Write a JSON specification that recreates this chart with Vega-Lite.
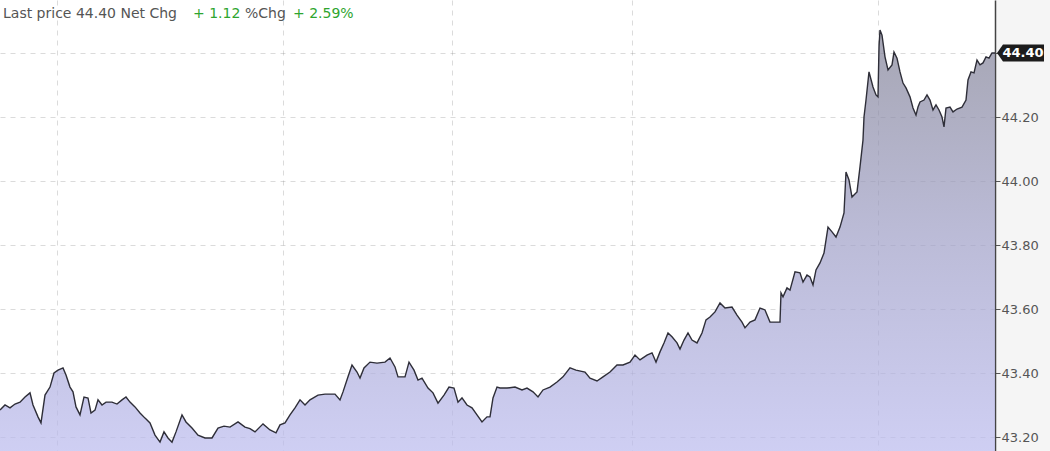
{
  "$schema": "https://vega.github.io/schema/vega-lite/v6.json",
  "width": 995,
  "height": 451,
  "autosize": {"type": "none"},
  "padding": {"left": 0, "top": 0, "right": 55, "bottom": 0},
  "background": "#f5f5f5",
  "view": {"fill": "#ffffff", "stroke": null},
  "config": {
    "font": "DejaVu Sans"
  },
  "data": {
    "values": [
      {"t": 0, "v": 43.284}, {"t": 5, "v": 43.300}, {"t": 10, "v": 43.291}, {"t": 15, "v": 43.303},
      {"t": 20, "v": 43.309}, {"t": 25, "v": 43.325}, {"t": 30, "v": 43.338}, {"t": 33, "v": 43.300},
      {"t": 38, "v": 43.263}, {"t": 41, "v": 43.244}, {"t": 45, "v": 43.331}, {"t": 50, "v": 43.356},
      {"t": 54, "v": 43.400}, {"t": 58, "v": 43.409}, {"t": 63, "v": 43.416}, {"t": 66, "v": 43.394},
      {"t": 70, "v": 43.356}, {"t": 73, "v": 43.341}, {"t": 76, "v": 43.294}, {"t": 80, "v": 43.269},
      {"t": 84, "v": 43.325}, {"t": 88, "v": 43.322}, {"t": 91, "v": 43.275}, {"t": 95, "v": 43.284},
      {"t": 98, "v": 43.316}, {"t": 102, "v": 43.300}, {"t": 106, "v": 43.309}, {"t": 112, "v": 43.309},
      {"t": 117, "v": 43.303}, {"t": 122, "v": 43.316}, {"t": 126, "v": 43.325}, {"t": 130, "v": 43.309},
      {"t": 135, "v": 43.294}, {"t": 140, "v": 43.275}, {"t": 145, "v": 43.259}, {"t": 150, "v": 43.244},
      {"t": 155, "v": 43.206}, {"t": 160, "v": 43.184}, {"t": 164, "v": 43.216}, {"t": 168, "v": 43.197},
      {"t": 172, "v": 43.184}, {"t": 176, "v": 43.216}, {"t": 182, "v": 43.269}, {"t": 186, "v": 43.247},
      {"t": 192, "v": 43.228}, {"t": 198, "v": 43.206}, {"t": 205, "v": 43.197}, {"t": 212, "v": 43.197},
      {"t": 218, "v": 43.228}, {"t": 224, "v": 43.234}, {"t": 230, "v": 43.231}, {"t": 238, "v": 43.247},
      {"t": 245, "v": 43.231}, {"t": 250, "v": 43.226}, {"t": 255, "v": 43.216}, {"t": 263, "v": 43.241},
      {"t": 270, "v": 43.222}, {"t": 276, "v": 43.213}, {"t": 280, "v": 43.238}, {"t": 285, "v": 43.244},
      {"t": 290, "v": 43.269}, {"t": 295, "v": 43.291}, {"t": 300, "v": 43.316}, {"t": 305, "v": 43.300},
      {"t": 310, "v": 43.316}, {"t": 318, "v": 43.331}, {"t": 325, "v": 43.334}, {"t": 335, "v": 43.334},
      {"t": 340, "v": 43.316}, {"t": 343, "v": 43.341}, {"t": 348, "v": 43.388}, {"t": 352, "v": 43.425},
      {"t": 357, "v": 43.403}, {"t": 360, "v": 43.384}, {"t": 364, "v": 43.416}, {"t": 370, "v": 43.434},
      {"t": 377, "v": 43.431}, {"t": 385, "v": 43.434}, {"t": 390, "v": 43.447}, {"t": 395, "v": 43.419},
      {"t": 398, "v": 43.388}, {"t": 405, "v": 43.388}, {"t": 409, "v": 43.434}, {"t": 414, "v": 43.409},
      {"t": 418, "v": 43.378}, {"t": 422, "v": 43.384}, {"t": 428, "v": 43.353}, {"t": 433, "v": 43.338},
      {"t": 438, "v": 43.306}, {"t": 444, "v": 43.331}, {"t": 449, "v": 43.356}, {"t": 454, "v": 43.353},
      {"t": 458, "v": 43.309}, {"t": 462, "v": 43.322}, {"t": 467, "v": 43.300}, {"t": 472, "v": 43.291},
      {"t": 477, "v": 43.269}, {"t": 482, "v": 43.247}, {"t": 487, "v": 43.263}, {"t": 490, "v": 43.263},
      {"t": 493, "v": 43.322}, {"t": 497, "v": 43.356}, {"t": 500, "v": 43.353}, {"t": 507, "v": 43.353},
      {"t": 515, "v": 43.356}, {"t": 522, "v": 43.347}, {"t": 527, "v": 43.353}, {"t": 533, "v": 43.341},
      {"t": 538, "v": 43.325}, {"t": 543, "v": 43.347}, {"t": 550, "v": 43.356}, {"t": 557, "v": 43.372},
      {"t": 563, "v": 43.388}, {"t": 570, "v": 43.416}, {"t": 576, "v": 43.409}, {"t": 585, "v": 43.403},
      {"t": 590, "v": 43.384}, {"t": 597, "v": 43.375}, {"t": 603, "v": 43.388}, {"t": 610, "v": 43.403},
      {"t": 617, "v": 43.425}, {"t": 623, "v": 43.425}, {"t": 630, "v": 43.434}, {"t": 635, "v": 43.456},
      {"t": 640, "v": 43.441}, {"t": 647, "v": 43.456}, {"t": 652, "v": 43.463}, {"t": 656, "v": 43.434},
      {"t": 660, "v": 43.466}, {"t": 664, "v": 43.494}, {"t": 668, "v": 43.525}, {"t": 672, "v": 43.513},
      {"t": 677, "v": 43.494}, {"t": 680, "v": 43.475}, {"t": 684, "v": 43.503}, {"t": 688, "v": 43.525},
      {"t": 692, "v": 43.503}, {"t": 697, "v": 43.494}, {"t": 702, "v": 43.525}, {"t": 706, "v": 43.566},
      {"t": 710, "v": 43.575}, {"t": 715, "v": 43.591}, {"t": 720, "v": 43.619}, {"t": 725, "v": 43.603},
      {"t": 732, "v": 43.606}, {"t": 737, "v": 43.581}, {"t": 742, "v": 43.559}, {"t": 745, "v": 43.541},
      {"t": 750, "v": 43.559}, {"t": 755, "v": 43.566}, {"t": 760, "v": 43.603}, {"t": 765, "v": 43.597},
      {"t": 770, "v": 43.559}, {"t": 777, "v": 43.559}, {"t": 780, "v": 43.559}, {"t": 781, "v": 43.650},
      {"t": 783, "v": 43.638}, {"t": 787, "v": 43.666}, {"t": 790, "v": 43.659}, {"t": 795, "v": 43.716},
      {"t": 800, "v": 43.713}, {"t": 803, "v": 43.684}, {"t": 807, "v": 43.706}, {"t": 810, "v": 43.700},
      {"t": 813, "v": 43.675}, {"t": 816, "v": 43.722}, {"t": 820, "v": 43.744}, {"t": 824, "v": 43.775},
      {"t": 828, "v": 43.856}, {"t": 832, "v": 43.841}, {"t": 836, "v": 43.825}, {"t": 840, "v": 43.856},
      {"t": 844, "v": 43.900}, {"t": 846, "v": 44.028}, {"t": 849, "v": 44.003}, {"t": 852, "v": 43.950},
      {"t": 857, "v": 43.966}, {"t": 860, "v": 44.044}, {"t": 863, "v": 44.128}, {"t": 864, "v": 44.200},
      {"t": 866, "v": 44.253}, {"t": 869, "v": 44.341}, {"t": 873, "v": 44.294}, {"t": 876, "v": 44.269},
      {"t": 878, "v": 44.263}, {"t": 879, "v": 44.419}, {"t": 880, "v": 44.472}, {"t": 882, "v": 44.456},
      {"t": 885, "v": 44.388}, {"t": 888, "v": 44.347}, {"t": 892, "v": 44.363}, {"t": 894, "v": 44.403},
      {"t": 897, "v": 44.384}, {"t": 900, "v": 44.341}, {"t": 903, "v": 44.306}, {"t": 906, "v": 44.291},
      {"t": 910, "v": 44.263}, {"t": 913, "v": 44.228}, {"t": 916, "v": 44.206}, {"t": 918, "v": 44.231},
      {"t": 920, "v": 44.247}, {"t": 924, "v": 44.253}, {"t": 927, "v": 44.269}, {"t": 930, "v": 44.253},
      {"t": 933, "v": 44.222}, {"t": 936, "v": 44.238}, {"t": 939, "v": 44.222}, {"t": 942, "v": 44.200},
      {"t": 944, "v": 44.169}, {"t": 946, "v": 44.228}, {"t": 950, "v": 44.231}, {"t": 953, "v": 44.216},
      {"t": 957, "v": 44.225}, {"t": 962, "v": 44.231}, {"t": 966, "v": 44.253}, {"t": 968, "v": 44.316},
      {"t": 971, "v": 44.341}, {"t": 974, "v": 44.338}, {"t": 977, "v": 44.378}, {"t": 980, "v": 44.363},
      {"t": 983, "v": 44.369}, {"t": 986, "v": 44.388}, {"t": 989, "v": 44.384}, {"t": 992, "v": 44.400},
      {"t": 995, "v": 44.400}
    ]
  },
  "encoding": {
    "x": {
      "field": "t",
      "type": "quantitative",
      "scale": {"domain": [0, 995], "nice": false, "zero": false},
      "axis": {
        "orient": "bottom",
        "values": [57, 283, 452, 632, 878],
        "labels": false,
        "ticks": false,
        "domain": false,
        "title": null,
        "grid": true,
        "gridColor": "#888888",
        "gridOpacity": 0.3,
        "gridDash": [5, 5],
        "gridWidth": 1
      }
    },
    "y": {
      "field": "v",
      "type": "quantitative",
      "scale": {"domain": [43.15625, 44.565625], "nice": false, "zero": false},
      "axis": {
        "orient": "right",
        "values": [43.2, 43.4, 43.6, 43.8, 44.0, 44.2, 44.4],
        "format": ".2f",
        "labelExpr": "datum.value > 44.3 ? '' : datum.label",
        "title": null,
        "grid": true,
        "gridColor": "#888888",
        "gridOpacity": 0.3,
        "gridDash": [5, 5],
        "gridWidth": 1,
        "domainColor": "#444444",
        "domainWidth": 1.5,
        "tickColor": "#555555",
        "tickSize": 5,
        "labelPadding": 1,
        "labelFont": "DejaVu Sans",
        "labelFontSize": 13,
        "labelColor": "#555555"
      }
    }
  },
  "layer": [
    {
      "mark": {
        "type": "area",
        "fill": {
          "x1": 0, "y1": 0, "x2": 0, "y2": 1,
          "gradient": "linear",
          "stops": [
            {"offset": 0, "color": "#808094"},
            {"offset": 0.5, "color": "#9f9fc7"},
            {"offset": 1, "color": "#babaee"}
          ]
        },
        "fillOpacity": 0.7,
        "stroke": null
      },
      "encoding": {"y2": {"datum": 43.15625}}
    },
    {
      "mark": {"type": "line", "color": "#2e2e38", "strokeWidth": 1.4}
    },
    {
      "transform": [{"filter": "datum.t == 995"}],
      "mark": {
        "type": "point",
        "shape": "M0.08,0L0.32,-0.34L1.96,-0.34L1.96,0.34L0.32,0.34Z",
        "size": 2500,
        "filled": true,
        "color": "#1c1c1c",
        "opacity": 1,
        "strokeWidth": 0,
        "zindex": 2
      }
    },
    {
      "transform": [{"filter": "datum.t == 995"}],
      "mark": {
        "type": "text",
        "dx": 28,
        "align": "center",
        "baseline": "middle",
        "fontSize": 13,
        "fontWeight": "bold",
        "color": "#ffffff",
        "zindex": 2
      },
      "encoding": {"text": {"field": "v", "type": "quantitative", "format": ".2f"}}
    },
    {
      "data": {"values": [{}]},
      "mark": {"type": "text", "x": 3, "y": 14, "align": "left", "baseline": "middle", "fontSize": 14, "color": "#555555", "text": "Last price 44.40 Net Chg"},
      "encoding": {"x": null, "y": null}
    },
    {
      "data": {"values": [{}]},
      "mark": {"type": "text", "x": 193, "y": 14, "align": "left", "baseline": "middle", "fontSize": 14, "color": "#2ea52e", "text": "+ 1.12"},
      "encoding": {"x": null, "y": null}
    },
    {
      "data": {"values": [{}]},
      "mark": {"type": "text", "x": 245, "y": 14, "align": "left", "baseline": "middle", "fontSize": 14, "color": "#555555", "text": "%Chg"},
      "encoding": {"x": null, "y": null}
    },
    {
      "data": {"values": [{}]},
      "mark": {"type": "text", "x": 293, "y": 14, "align": "left", "baseline": "middle", "fontSize": 14, "color": "#2ea52e", "text": "+ 2.59%"},
      "encoding": {"x": null, "y": null}
    }
  ]
}
